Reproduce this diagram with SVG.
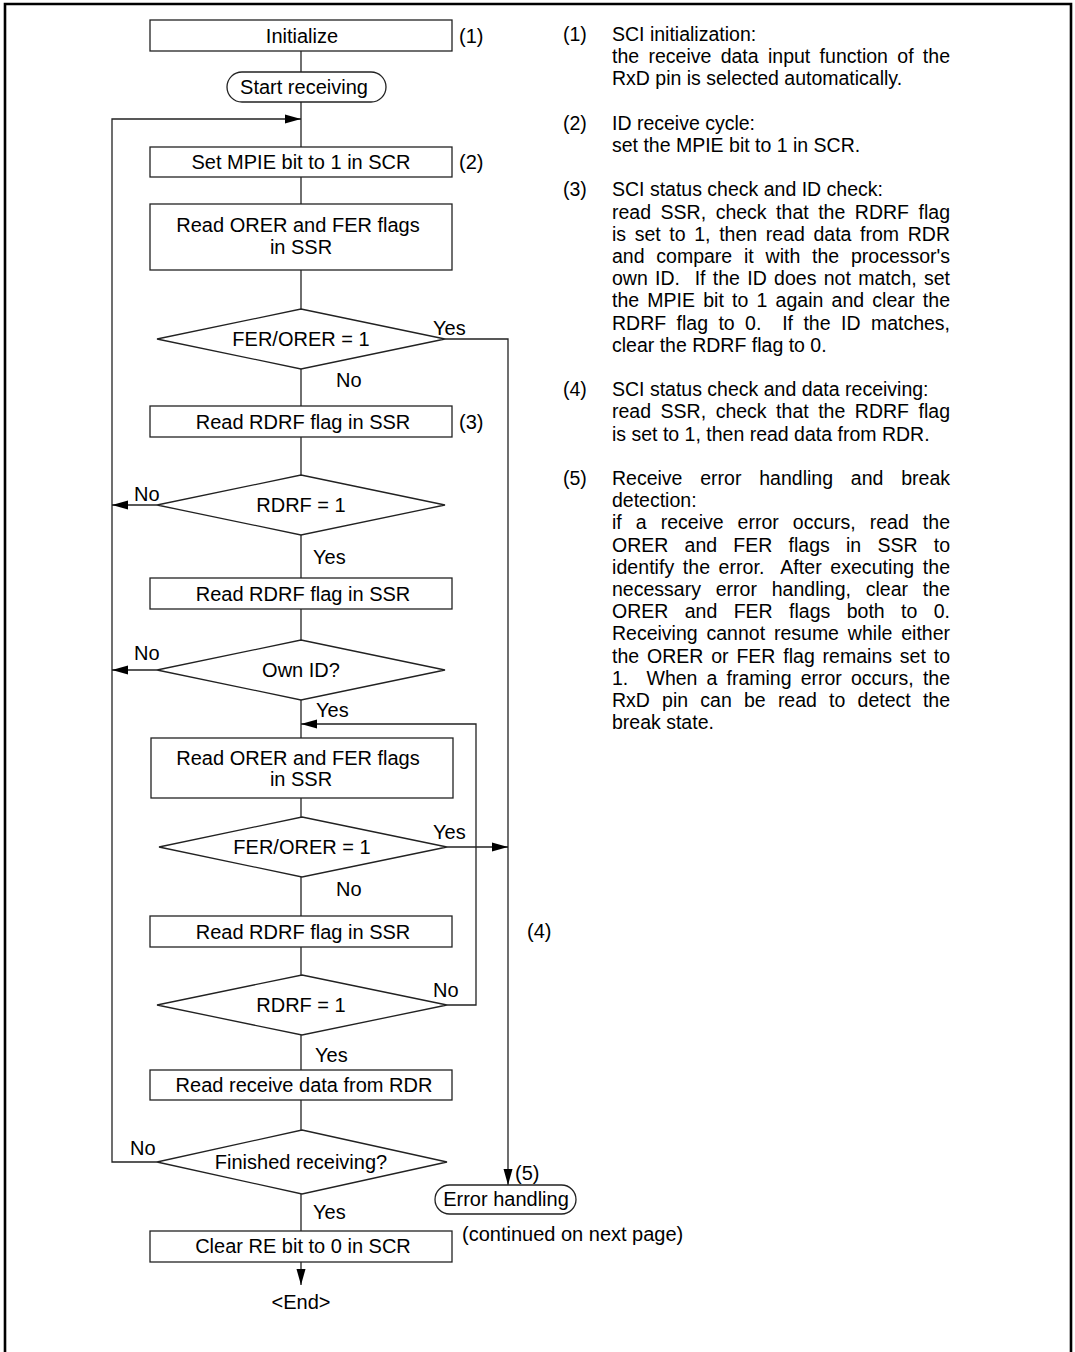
<svg xmlns="http://www.w3.org/2000/svg" width="1075" height="1352" viewBox="0 0 1075 1352">
<defs>
<marker id="ah" markerUnits="userSpaceOnUse" markerWidth="16" markerHeight="10" refX="16" refY="5" orient="auto">
<path d="M0,0.5 L16,5 L0,9.5 z" fill="#000"/>
</marker>
<style>
.box{fill:#fff;stroke:#222;stroke-width:1.3}
.ln{fill:none;stroke:#222;stroke-width:1.3}
.t{font-family:"Liberation Sans",Arial,Helvetica,sans-serif;font-size:20px;fill:#000}
.n{font-size:19.5px}
.c{text-anchor:middle}
</style>
</defs>
<rect width="1075" height="1352" fill="#fff"/>
<path d="M5,1352 V4 H1071 V1352" fill="none" stroke="#000" stroke-width="2.6"/>

<g id="connectors">
<path class="ln" d="M301,51 V72"/>
<path class="ln" d="M301,102 V147"/>
<path class="ln" d="M157,1162 H112 V119 H301" marker-end="url(#ah)"/>
<path class="ln" d="M301,177 V204"/>
<path class="ln" d="M301,270 V309"/>
<path class="ln" d="M301,369 V406"/>
<path class="ln" d="M301,437 V475"/>
<path class="ln" d="M301,535 V578"/>
<path class="ln" d="M301,609 V640"/>
<path class="ln" d="M301,700 V738"/>
<path class="ln" d="M301,798 V817"/>
<path class="ln" d="M301,877 V916"/>
<path class="ln" d="M301,946 V975"/>
<path class="ln" d="M301,1035 V1070"/>
<path class="ln" d="M301,1100 V1130"/>
<path class="ln" d="M301,1194 V1231"/>
<path class="ln" d="M301,1262 V1285" marker-end="url(#ah)"/>
<path class="ln" d="M157,505 H112" marker-end="url(#ah)"/>
<path class="ln" d="M157,670 H112" marker-end="url(#ah)"/>
<path class="ln" d="M445,339 H508 V1185" marker-end="url(#ah)"/>
<path class="ln" d="M447,847 H508" marker-end="url(#ah)"/>
<path class="ln" d="M447,1005 H476 V724 H301" marker-end="url(#ah)"/>
<g class="t">
<text x="433" y="335">Yes</text>
<text x="336" y="387">No</text>
<text x="134" y="501">No</text>
<text x="313" y="564">Yes</text>
<text x="134" y="660">No</text>
<text x="316" y="717">Yes</text>
<text x="433" y="839">Yes</text>
<text x="336" y="896">No</text>
<text x="433" y="997">No</text>
<text x="315" y="1062">Yes</text>
<text x="130" y="1155">No</text>
<text x="313" y="1219">Yes</text>
</g>
</g>

<g id="n-init"><rect class="box" x="150" y="20" width="302" height="31"/><text class="t c" x="302" y="43">Initialize</text><text class="t" x="459" y="43">(1)</text></g>
<g id="n-start"><rect class="box" x="227" y="72" width="159" height="30" rx="15"/><text class="t c" x="304" y="94">Start receiving</text></g>
<g id="n-mpie"><rect class="box" x="150" y="147" width="302" height="30"/><text class="t c" x="301" y="169">Set MPIE bit to 1 in SCR</text><text class="t" x="459" y="169">(2)</text></g>
<g id="n-read1"><rect class="box" x="150" y="204" width="302" height="66"/><text class="t c" x="298" y="232">Read ORER and FER flags</text><text class="t c" x="301" y="254">in SSR</text></g>
<g id="n-dec1"><polygon class="box" points="301,309 445,339 301,369 157,339"/><text class="t c" x="301" y="346">FER/ORER = 1</text></g>
<g id="n-rdrf1"><rect class="box" x="150" y="406" width="302" height="31"/><text class="t c" x="303" y="429">Read RDRF flag in SSR</text><text class="t" x="459" y="429">(3)</text></g>
<g id="n-dec2"><polygon class="box" points="301,475 445,505 301,535 157,505"/><text class="t c" x="301" y="512">RDRF = 1</text></g>
<g id="n-rdrf2"><rect class="box" x="150" y="578" width="302" height="31"/><text class="t c" x="303" y="601">Read RDRF flag in SSR</text></g>
<g id="n-dec3"><polygon class="box" points="301,640 445,670 301,700 157,670"/><text class="t c" x="301" y="677">Own ID?</text></g>
<g id="n-read2"><rect class="box" x="151" y="738" width="302" height="60"/><text class="t c" x="298" y="765">Read ORER and FER flags</text><text class="t c" x="301" y="786">in SSR</text></g>
<g id="n-dec4"><polygon class="box" points="302,817 447,847 302,877 159,847"/><text class="t c" x="302" y="854">FER/ORER = 1</text></g>
<g id="n-rdrf3"><rect class="box" x="150" y="916" width="302" height="31"/><text class="t c" x="303" y="939">Read RDRF flag in SSR</text></g>
<g id="n-dec5"><polygon class="box" points="302,975 447,1005 302,1035 157,1005"/><text class="t c" x="301" y="1012">RDRF = 1</text></g>
<g id="n-data"><rect class="box" x="150" y="1070" width="302" height="30"/><text class="t c" x="304" y="1092">Read receive data from RDR</text></g>
<g id="n-dec6"><polygon class="box" points="302,1130 447,1162 302,1194 157,1162"/><text class="t c" x="301" y="1169">Finished receiving?</text></g>
<g id="n-clear"><rect class="box" x="150" y="1231" width="302" height="31"/><text class="t c" x="303" y="1253">Clear RE bit to 0 in SCR</text></g>
<g id="n-end"><text class="t c" x="301" y="1309">&lt;End&gt;</text></g>
<g id="n-err"><rect class="box" x="435" y="1185" width="141" height="29" rx="14.5"/><text class="t c" x="506" y="1206">Error handling</text><text class="t" x="515" y="1180">(5)</text></g>
<g id="n-cont"><text class="t" x="462" y="1241">(continued on next page)</text></g>
<g id="n-l4"><text class="t" x="527" y="938">(4)</text></g>

<g id="notes" class="t n">
<text x="563" y="41">(1)</text>
<text x="612" y="41">SCI initialization:</text>
<text x="612" y="63.2" word-spacing="3.9" textLength="338" lengthAdjust="spacing">the receive data input function of the</text>
<text x="612" y="85.4">RxD pin is selected automatically.</text>
<text x="563" y="129.8">(2)</text>
<text x="612" y="129.8">ID receive cycle:</text>
<text x="612" y="152">set the MPIE bit to 1 in SCR.</text>
<text x="563" y="196.4">(3)</text>
<text x="612" y="196.4">SCI status check and ID check:</text>
<text x="612" y="218.6" word-spacing="4.1" textLength="338" lengthAdjust="spacing">read SSR, check that the RDRF flag</text>
<text x="612" y="240.8" word-spacing="3.2" textLength="338" lengthAdjust="spacing">is set to 1, then read data from RDR</text>
<text x="612" y="263" word-spacing="6.4" textLength="338" lengthAdjust="spacing">and compare it with the processor's</text>
<text x="612" y="285.2" word-spacing="1.9" textLength="338" lengthAdjust="spacing">own ID.&#160; If the ID does not match, set</text>
<text x="612" y="307.4" word-spacing="2.8" textLength="338" lengthAdjust="spacing">the MPIE bit to 1 again and clear the</text>
<text x="612" y="329.6" word-spacing="5" textLength="338" lengthAdjust="spacing">RDRF flag to 0.&#160; If the ID matches,</text>
<text x="612" y="351.8">clear the RDRF flag to 0.</text>
<text x="563" y="396.2">(4)</text>
<text x="612" y="396.2">SCI status check and data receiving:</text>
<text x="612" y="418.4" word-spacing="4.1" textLength="338" lengthAdjust="spacing">read SSR, check that the RDRF flag</text>
<text x="612" y="440.6">is set to 1, then read data from RDR.</text>
<text x="563" y="485">(5)</text>
<text x="612" y="485" word-spacing="12.4" textLength="338" lengthAdjust="spacing">Receive error handling and break</text>
<text x="612" y="507.2">detection:</text>
<text x="612" y="529.4" word-spacing="8.6" textLength="338" lengthAdjust="spacing">if a receive error occurs, read the</text>
<text x="612" y="551.6" word-spacing="10.8" textLength="338" lengthAdjust="spacing">ORER and FER flags in SSR to</text>
<text x="612" y="573.8" word-spacing="3" textLength="338" lengthAdjust="spacing">identify the error.&#160; After executing the</text>
<text x="612" y="596" word-spacing="9.4" textLength="338" lengthAdjust="spacing">necessary error handling, clear the</text>
<text x="612" y="618.2" word-spacing="11" textLength="338" lengthAdjust="spacing">ORER and FER flags both to 0.</text>
<text x="612" y="640.4" word-spacing="3.5" textLength="338" lengthAdjust="spacing">Receiving cannot resume while either</text>
<text x="612" y="662.6" word-spacing="2.4" textLength="338" lengthAdjust="spacing">the ORER or FER flag remains set to</text>
<text x="612" y="684.8" word-spacing="3.7" textLength="338" lengthAdjust="spacing">1.&#160; When a framing error occurs, the</text>
<text x="612" y="707" word-spacing="6.8" textLength="338" lengthAdjust="spacing">RxD pin can be read to detect the</text>
<text x="612" y="729.2">break state.</text>
</g>
</svg>
